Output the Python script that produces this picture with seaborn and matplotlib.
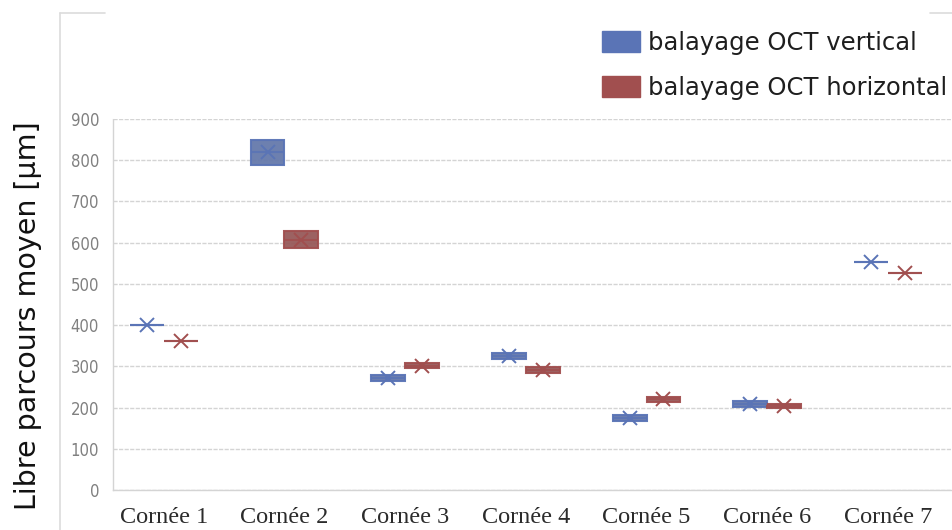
import matplotlib
matplotlib.use("Agg")
import matplotlib.pyplot as plt
from matplotlib.patches import Patch
from matplotlib.lines import Line2D
import seaborn as sns
import pandas as pd

# Mean free path per cornea (µm): lower quartile, median, upper quartile
corneas = ["Cornée 1", "Cornée 2", "Cornée 3", "Cornée 4", "Cornée 5", "Cornée 6", "Cornée 7"]
series = ["balayage OCT vertical", "balayage OCT horizontal"]

vert_q1 = [400, 788, 265, 318, 168, 202, 552]
vert_med = [400, 820, 271, 326, 175, 209, 552]
vert_q3 = [400, 850, 279, 332, 182, 216, 552]

horiz_q1 = [361, 587, 295, 284, 213, 199, 526]
horiz_med = [361, 607, 302, 290, 220, 204, 526]
horiz_q3 = [361, 628, 309, 298, 226, 209, 526]

colors = {"balayage OCT vertical": "#5a74b6", "balayage OCT horizontal": "#a14f4f"}

yticks = [0, 100, 200, 300, 400, 500, 600, 700, 800, 900]

# Long-form table: five values per box so quartiles land on q1 / median / q3
rows = []
for name, q1s, meds, q3s in [(series[0], vert_q1, vert_med, vert_q3),
                             (series[1], horiz_q1, horiz_med, horiz_q3)]:
    for c, a, m, b in zip(corneas, q1s, meds, q3s):
        for v in (a, a, m, b, b):
            rows.append({"cornee": c, "balayage": name, "valeur": v})
df = pd.DataFrame(rows)

sns.set_theme(style="white")
plt.rcParams["font.family"] = ["DejaVu Sans"]

fig = plt.figure(figsize=(9.52, 5.30), dpi=100)
ax = fig.add_axes([113 / 952, 40 / 530, 839 / 952, 371 / 530])

for name in series:
    sub = df[df["balayage"] == name]
    col = colors[name]
    sns.boxplot(data=sub, x="cornee", y="valeur", hue="balayage",
                order=corneas, hue_order=series, palette=colors,
                width=0.56, gap=0, dodge=True, whis=0, showcaps=False,
                showfliers=False, linecolor=col, linewidth=1.5,
                showmeans=True,
                meanprops=dict(marker="x", markersize=10, markeredgewidth=1.4,
                               markeredgecolor=col, markerfacecolor=col),
                medianprops=dict(color=col, linewidth=1.5, alpha=0.85),
                boxprops=dict(alpha=0.95),
                legend=False, ax=ax)

ax.set_ylim(0, 900)
ax.set_xlim(-0.42, 6.53)
ax.set_yticks(yticks)
ax.set_yticklabels([str(t) for t in yticks], color="#808080", fontsize=12,
                   fontstretch="condensed")
ax.set_xticks(range(len(corneas)))
ax.set_xticklabels(corneas, family="Liberation Serif", fontsize=17.5, color="#2b2b2b")
ax.tick_params(axis="y", length=0, pad=10)
ax.tick_params(axis="x", length=0, pad=12)
ax.set_xlabel("")
ax.set_ylabel("Libre parcours moyen [µm]", fontsize=20.5, color="#111111")
ax.yaxis.set_label_coords(-0.0846, 0.469)

ax.grid(axis="y", color="#d4d4d4", linestyle=(0, (3, 1)), linewidth=1)
ax.set_axisbelow(True)
for side in ("top", "right"):
    ax.spines[side].set_visible(False)
for side in ("left", "bottom"):
    ax.spines[side].set_color("#d4d4d4")
    ax.spines[side].set_linestyle((0, (3, 1)))
    ax.spines[side].set_linewidth(1)

# Chart frame, partly hidden behind the title area
frame_kw = dict(color="#dcdcdc", linewidth=1.2, transform=fig.transFigure)
fig.add_artist(Line2D([60 / 952, 60 / 952], [0, 1 - 13 / 530], **frame_kw))
fig.add_artist(Line2D([60 / 952, 105 / 952], [1 - 13 / 530, 1 - 13 / 530], **frame_kw))
fig.add_artist(Line2D([930 / 952, 1], [1 - 13 / 530, 1 - 13 / 530], **frame_kw))

handles = [Patch(facecolor=colors[s], edgecolor=colors[s]) for s in series]
fig.legend(handles, series, loc="upper right", bbox_to_anchor=(947 / 952, 1 - 31 / 530),
           frameon=False, fontsize=17.5, handlelength=1.56, handleheight=0.95,
           labelspacing=0.85, handletextpad=0.33, borderaxespad=0, borderpad=0,
           labelcolor="#1e1e1e")

fig.savefig("out.png", dpi=100)
